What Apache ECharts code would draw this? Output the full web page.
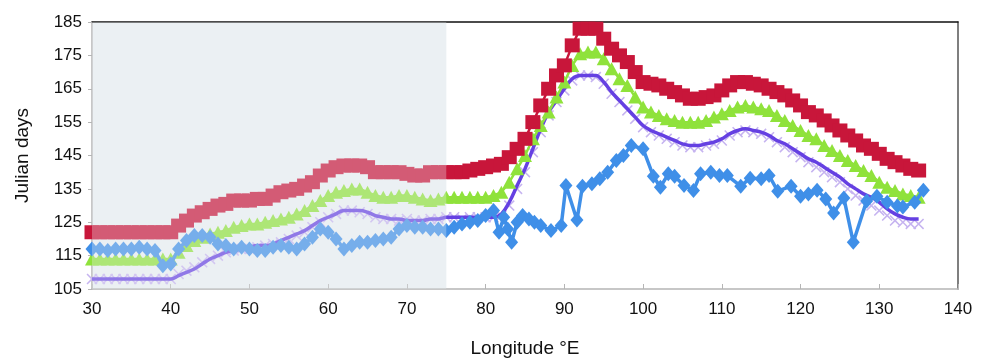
<!DOCTYPE html>
<html>
<head>
<meta charset="utf-8">
<script src="https://cdn.jsdelivr.net/npm/echarts@6/dist/echarts.min.js"></script>
<style>
  html, body { margin: 0; padding: 0; background: #fff; }
  #chart { width: 981px; height: 363px; }
</style>
</head>
<body>
<div id="chart"></div>
<script>
// longitudes (°E) for the 1-degree series
const lon = [];
for (let x = 30; x <= 135; x++) lon.push(x);

// red squares
const redDays = [
  122, 122, 122, 122, 122, 122, 122, 122, 122, 122, 122,
  124, 125.5, 127, 128, 129, 130, 130.5, 131.5, 131.5, 131.5,
  132, 132, 133, 134, 134.5, 135, 136, 137, 139, 140.5,
  141.5, 142, 142, 142, 141.5, 140, 140, 140, 140, 139.5,
  139, 139, 140, 140, 140, 140, 140, 140.5, 141, 141.5,
  142, 142.5, 144.5, 147, 150, 155, 160, 165, 169, 172,
  178, 183, 183, 183, 180, 177, 175, 173, 170, 167,
  166.5, 166, 165, 164, 163, 162, 162, 162.5, 163, 164.5,
  166, 167, 167, 166.5, 166, 165, 164, 163, 161.5, 160,
  158, 157, 155.5, 154, 152.5, 151, 149.5, 148, 147, 145.5,
  144, 143, 142, 141, 140.5
];

// green triangles
const greenDays = [
  114, 114, 114, 114, 114, 114, 114, 114, 114, 114, 114,
  116, 118, 119.5, 120.5, 121.5, 122, 122.5, 123.5, 124, 124.5,
  124.5, 125, 125.5, 126, 126.5, 127.5, 128.5, 130, 131.5, 133,
  134, 134.5, 135, 135, 134, 133, 132.5, 132.5, 133, 133,
  132.5, 132, 131.5, 132, 132.5, 132.5, 132.5, 132.5, 132.5, 132.5,
  133, 134, 137, 141, 145, 150, 154, 158, 162.5, 167,
  172, 175.5, 176, 176, 174, 171, 168, 166, 162.5, 159.5,
  158, 157, 156, 155.5, 155, 155, 155, 155.5, 156.5, 157.5,
  158.5, 159.5, 160, 159.5, 159, 158.5, 157, 155.5, 154, 152.5,
  151, 150, 148, 146.5, 145, 143.5, 142, 140.5, 139, 137,
  135.5, 134.5, 133.5, 133, 132.5
];

// light purple x markers
const crossDays = [
  108, 108, 108, 108, 108, 108, 108, 108, 108, 108, 108,
  109.5, 110.5, 111.5, 113, 114, 115, 116, 116.5, 117, 117,
  117.5, 118, 118.5, 119, 120, 121, 122, 123.5, 125, 126.5,
  127.5, 128.5, 128.5, 128, 127.5, 126.5, 126, 126, 125.5, 126,
  125.5, 125.5, 126, 126, 126.5, 126.5, 126, 126.5, 126.5, 126.5,
  126.5, 127, 130, 135, 140, 146, 152, 157, 161, 164.5,
  167.5, 169, 169, 168.5, 166.5, 163.5, 161, 158.5, 156, 153.5,
  152, 151, 150, 149, 148, 147.5, 147.5, 148, 148.5, 149.5,
  151, 152, 152.5, 152, 151.5, 150.5, 149, 147.5, 146, 144.5,
  143, 141.5, 140, 138.5, 137, 135, 133, 131.5, 130, 128.5,
  127, 125.5, 125, 124.5, 124.5
];

// purple trend line
const trendDays = [
  108, 108, 108, 108, 108, 108, 108, 108, 108, 108, 108,
  109, 110, 111, 112.5, 114, 115, 116, 116.5, 117, 117.5,
  118, 118, 118.5, 119.5, 120.5, 121.5, 122.5, 124, 125.5, 126.5,
  127.5, 128.5, 128.5, 128.5, 128, 127, 126.5, 126, 126, 125.5,
  125.5, 125.5, 126, 126, 126.5, 126.5, 126.5, 126.5, 126.5, 126.5,
  126.5, 127.5, 131, 136, 141, 147, 153, 158, 161.5, 165,
  168, 169, 169, 169, 167, 164, 161.5, 159, 156.5, 154,
  152.5, 151.5, 150.5, 149.5, 148.5, 148, 148, 148.5, 149, 150,
  151.5, 152.5, 153, 152.5, 152, 151, 149.5, 148.5, 147, 145.5,
  144, 143, 141.5, 140, 138.5, 136.5, 135, 133.5, 132.5, 131,
  129, 127.5, 126.5, 126, 126
];

// blue diamonds (irregular longitudes)
const blueLon = [
  30, 31, 32, 33, 34, 35, 36, 37, 38, 39, 40,
  41, 42, 43, 44, 45, 46, 47, 48, 49, 50,
  51, 52, 53, 54, 55, 56, 57, 58, 59, 60,
  61, 62, 63, 64, 65, 66, 67, 68, 69, 70,
  71, 72, 73, 74, 75, 76, 77, 78, 79, 80,
  81, 81.7, 82.3, 82.8, 83.3, 84, 84.7, 85.5, 86.2, 87,
  88.3, 89.6, 90.2, 91.6, 92.3, 93.5, 94.5, 95.5, 96.6, 97.5,
  98.5, 100, 101.3, 102.2, 103.2, 104, 105.2, 106.4, 107.3, 108.6,
  109.7, 110.7, 112.4, 113.6, 115, 116, 117.1, 118.8, 120, 121,
  122.1, 123.2, 124.2, 125.5, 126.7, 128.4, 129.7, 131, 132.3, 133,
  134.5, 135.6
];
const blueDays = [
  117, 117, 116.5, 117, 117, 117, 117.5, 117, 116.5, 112, 112.5,
  117, 119.5, 121, 121, 120.5, 118.5, 118, 117, 117.5, 117,
  116.5, 116.5, 117.5, 118, 117.5, 117, 118.5, 120.5, 123, 122,
  120, 117, 118, 119, 119, 119.5, 120, 120.5, 123, 124,
  123.5, 123.5, 123, 123, 122.5, 123.5, 124.5, 125, 125.5, 127,
  128.5, 122, 126.5, 123, 119, 125, 127, 126, 125, 124,
  122.5, 124, 136, 125.7, 135.8, 136.5, 138, 140, 143.5, 145,
  148, 147, 138.8, 135.5, 139.5, 138.8, 136, 134.5, 139.5, 140,
  139, 139, 135.8, 138.2, 138, 139, 134.3, 135.8, 132.8, 133.5,
  134.6, 132, 127.8, 132.3, 119, 131.4, 132.8, 131, 129.9, 129.6,
  131, 134.6
];

const xTicks = [30, 140, 10];
const yTicks = [105, 185, 10];
const shadedLon = [30, 75];

const pair = (xs, ys) => xs.map((x, i) => [x, ys[i]]);
const crossPath = 'path://M0,1L1,0L5,4L9,0L10,1L6,5L10,9L9,10L5,6L1,10L0,9L4,5Z';
const labelFont = { fontFamily: 'Liberation Sans, Arial, sans-serif', fontSize: 17, color: '#111' };

const chart = echarts.init(document.getElementById('chart'), null, { renderer: 'canvas' });

chart.setOption({
  animation: false,
  backgroundColor: '#fff',
  grid: { left: 92, right: 23, top: 22, bottom: 71 },
  xAxis: [
    {
      type: 'value',
      min: xTicks[0], max: xTicks[1], interval: xTicks[2],
      name: 'Longitude °E',
      nameLocation: 'middle',
      nameGap: 50,
      nameTextStyle: { ...labelFont, fontSize: 19 },
      axisLine: { lineStyle: { color: '#b5b5b5', width: 1.5 } },
      axisTick: { inside: true, length: 5, lineStyle: { color: '#b5b5b5' } },
      axisLabel: { ...labelFont, margin: 12 },
      splitLine: { show: false },
    },
    {
      type: 'value', position: 'top',
      min: xTicks[0], max: xTicks[1],
      axisLine: { show: true, lineStyle: { color: '#111', width: 1.5 } },
      axisTick: { show: false }, axisLabel: { show: false }, splitLine: { show: false },
    },
  ],
  yAxis: [
    {
      type: 'value',
      min: yTicks[0], max: yTicks[1], interval: yTicks[2],
      name: 'Julian days',
      nameLocation: 'middle',
      nameGap: 60,
      nameTextStyle: { ...labelFont, fontSize: 19 },
      axisLine: { show: true, lineStyle: { color: '#b5b5b5', width: 1.5 } },
      axisTick: { show: true, length: 4, lineStyle: { color: '#b5b5b5' } },
      axisLabel: { ...labelFont, margin: 10 },
      splitLine: { show: false },
    },
    {
      type: 'value', position: 'right',
      min: yTicks[0], max: yTicks[1],
      axisLine: { show: true, lineStyle: { color: '#555', width: 1.5 } },
      axisTick: { show: false }, axisLabel: { show: false }, splitLine: { show: false },
    },
  ],
  series: [
    // shaded background band
    {
      type: 'line', data: [], z: 0, silent: true,
      markArea: {
        silent: true, z: 0,
        itemStyle: { color: '#ebf0f3' },
        data: [[{ xAxis: shadedLon[0] }, { xAxis: shadedLon[1] }]],
      },
    },
    {
      type: 'line', data: pair(lon, crossDays), z: 2,
      symbol: crossPath, symbolSize: 11,
      itemStyle: { color: '#c6b4f0' },
      lineStyle: { width: 0 },
    },
    {
      type: 'line', data: pair(lon, trendDays), z: 3,
      smooth: 0.4, showSymbol: false,
      lineStyle: { color: '#6540e2', width: 3.5 },
    },
    {
      type: 'line', data: pair(lon, greenDays), z: 4,
      symbol: 'triangle', symbolSize: [14, 13],
      itemStyle: { color: '#8fe23b' },
      lineStyle: { color: '#8fe23b', width: 2.5 },
    },
    {
      type: 'line', data: pair(lon, redDays), z: 5,
      symbol: 'rect', symbolSize: [15, 14],
      itemStyle: { color: '#c8163a' },
      lineStyle: { color: '#c8163a', width: 2.5 },
    },
    {
      type: 'line', data: pair(blueLon, blueDays), z: 6,
      symbol: 'diamond', symbolSize: [13, 15],
      itemStyle: { color: '#3f8fe8' },
      lineStyle: { color: '#3f8fe8', width: 3.5 },
    },
    // pale veil over the shaded band (data there looks washed out)
    {
      type: 'line', data: [], z: 10, silent: true,
      markArea: {
        silent: true, z: 10,
        itemStyle: { color: 'rgba(235,240,243,0.32)' },
        data: [[{ xAxis: shadedLon[0] }, { xAxis: shadedLon[1] }]],
      },
    },
  ],
});
</script>
</body>
</html>
